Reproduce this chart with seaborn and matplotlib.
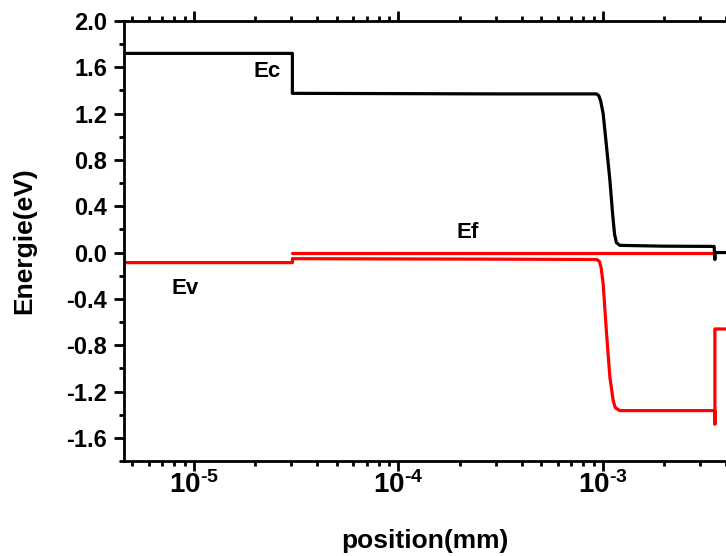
import math
import matplotlib
matplotlib.use("Agg")
import matplotlib.pyplot as plt
import matplotlib.ticker as mticker
import seaborn as sns

# band diagram values (position in mm, energy in eV)
ec_x = [4.5e-6, 3.03e-5, 3.03e-5, 3.0e-4, 9.3e-4, 9.55e-4, 9.75e-4, 1.003e-3, 1.042e-3,
        1.082e-3, 1.115e-3, 1.14e-3, 1.165e-3, 1.21e-3, 2.0e-3, 3.5e-3, 3.53e-3, 3.53e-3, 5e-3]
ec_y = [1.72, 1.72, 1.375, 1.37, 1.37, 1.355, 1.31, 1.20, 0.913,
        0.625, 0.339, 0.16, 0.085, 0.062, 0.055, 0.053, -0.06, 0.0, 0.0]

ef_x = [3.03e-5, 3.53e-3]
ef_y = [0.0, 0.0]

ev_x = [4.5e-6, 3.03e-5, 3.03e-5, 3.0e-4, 9.3e-4, 9.6e-4, 9.8e-4, 1.003e-3, 1.042e-3,
        1.082e-3, 1.123e-3, 1.15e-3, 1.21e-3, 3.53e-3, 3.53e-3, 3.53e-3, 5e-3]
ev_y = [-0.087, -0.087, -0.053, -0.057, -0.06, -0.075, -0.13, -0.27, -0.70,
        -1.077, -1.28, -1.34, -1.365, -1.365, -1.48, -0.66, -0.66]

labels = ["Ec", "Ef", "Ev"]
label_x = [2.28e-5, 2.19e-4, 9.1e-6]
label_y = [1.56, 0.175, -0.31]

yticks = [-1.6, -1.2, -0.8, -0.4, 0.0, 0.4, 0.8, 1.2, 1.6, 2.0]

sns.set_style("ticks", {"axes.edgecolor": "black", "xtick.color": "black",
                        "ytick.color": "black", "text.color": "black",
                        "axes.labelcolor": "black"})
plt.rcParams["font.family"] = ["Liberation Sans", "DejaVu Sans"]
plt.rcParams["font.weight"] = "bold"
plt.rcParams["mathtext.fontset"] = "custom"
plt.rcParams["mathtext.bf"] = "Liberation Sans:bold"
plt.rcParams["mathtext.rm"] = "Liberation Sans:bold"

fig = plt.figure(figsize=(7.26, 5.56), dpi=100)
ax = fig.add_axes([0.1708, 0.1709, 0.8292, 0.7914])

sns.lineplot(x=ef_x, y=ef_y, sort=False, estimator=None, color="#ff0000", lw=2.3, ax=ax)
sns.lineplot(x=ec_x, y=ec_y, sort=False, estimator=None, color="black", lw=2.3, ax=ax)
sns.lineplot(x=ev_x, y=ev_y, sort=False, estimator=None, color="#ff0000", lw=2.3, ax=ax)

for t, x, y in zip(labels, label_x, label_y):
    ax.text(x, y, t, ha="center", va="center", fontsize=16, fontweight="bold", color="black")

ax.set_xscale("log")
ax.set_xlim(4.55e-6, 4.0e-3)
ax.set_ylim(-1.8, 2.0)
ax.set_yticks(yticks)
ax.yaxis.set_minor_locator(mticker.MultipleLocator(0.2))
ax.yaxis.set_major_formatter(mticker.FormatStrFormatter("%.1f"))
ax.xaxis.set_major_locator(mticker.LogLocator(base=10))
ax.xaxis.set_minor_locator(mticker.LogLocator(base=10, subs=range(2, 10)))
ax.xaxis.set_minor_formatter(mticker.NullFormatter())
ax.xaxis.set_major_formatter(mticker.FuncFormatter(
    lambda v, p: r"$\mathbf{10^{\text{-}%d}}$" % abs(round(math.log10(v)))))

ax.spines["right"].set_visible(False)
for s in ["left", "bottom", "top"]:
    ax.spines[s].set_linewidth(2.0)
ax.tick_params(which="major", direction="out", length=7, width=2.0, labelsize=17,
               top=True, right=False, pad=5)
ax.tick_params(axis="x", which="major", labelsize=20, pad=0)
ax.tick_params(which="minor", direction="out", length=3.5, width=2.0, top=True, right=False)
for lab in ax.get_yticklabels():
    lab.set_fontweight("bold")

ax.set_xlabel("position(mm)", fontsize=19, fontweight="bold", labelpad=22)
ax.set_ylabel("Energie(eV)", fontsize=19, fontweight="bold", labelpad=22)

plt.savefig("out.png", dpi=100)
